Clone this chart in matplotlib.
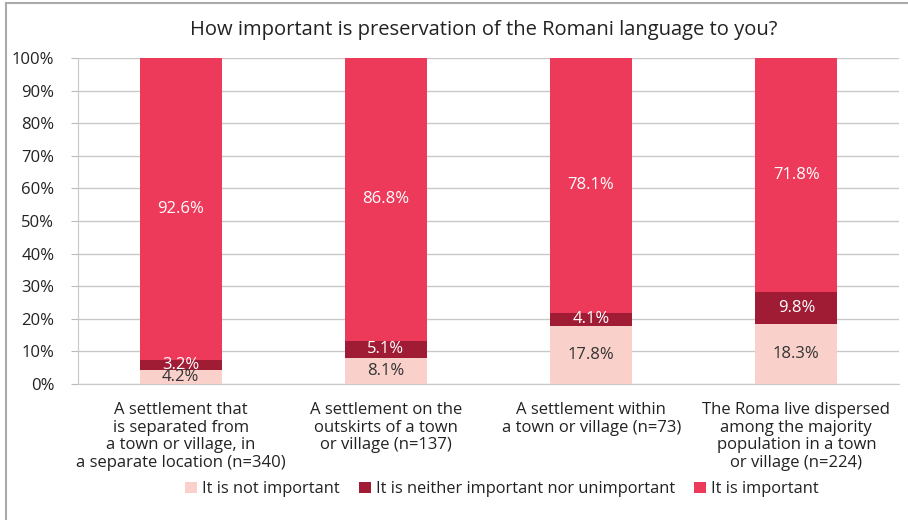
import matplotlib
matplotlib.use("Agg")
import matplotlib.pyplot as plt
from matplotlib.lines import Line2D
import numpy as np

categories = [
    "A settlement that\nis separated from\na town or village, in\na separate location (n=340)",
    "A settlement on the\noutskirts of a town\nor village (n=137)",
    "A settlement within\na town or village (n=73)",
    "The Roma live dispersed\namong the majority\npopulation in a town\nor village (n=224)",
]
series_names = ["It is not important", "It is neither important nor unimportant", "It is important"]
not_important = [4.2, 8.1, 17.8, 18.3]
neither = [3.2, 5.1, 4.1, 9.8]
important = [92.6, 86.8, 78.1, 71.8]
colors = ["#F9D0CA", "#A01C35", "#EE3A5A"]
label_colors = ["#333333", "white", "white"]
yticks = [0, 10, 20, 30, 40, 50, 60, 70, 80, 90, 100]

plt.rcParams['font.family'] = ['Open Sans', 'DejaVu Sans']

fig = plt.figure(figsize=(9.08, 5.2), dpi=100)
ax = fig.add_axes([78/908, 1 - 384/520, (899-78)/908, (384-58)/520])

x = np.arange(len(categories))
bottom = np.zeros(len(categories))
data = [not_important, neither, important]
width = 0.4
for vals, col, lc, name in zip(data, colors, label_colors, series_names):
    vals = np.array(vals)
    ax.bar(x, vals, width, bottom=bottom, color=col, label=name, zorder=3)
    for xi, b, v in zip(x, bottom, vals):
        ax.text(xi, b + v/2, f"{v:.1f}%", ha="center", va="center",
                color=lc, fontsize=12, zorder=4)
    bottom = bottom + vals

ax.set_xlim(-0.5, len(categories) - 0.5)
ax.set_ylim(0, 100)
ax.set_yticks(yticks)
ax.set_yticklabels([f"{t}%" for t in yticks], fontsize=12, color="#222222")
ax.set_xticks(x)
ax.set_xticklabels(categories, fontsize=12, color="#222222", linespacing=1.13)
ax.tick_params(axis="x", length=0, pad=13)
ax.tick_params(axis="y", length=5, color="#BBBBBB", pad=12)
ax.grid(axis="y", color="#C8C8C8", linewidth=1, zorder=0)
for s in ["top", "right"]:
    ax.spines[s].set_visible(False)
ax.spines["left"].set_color("#C8C8C8")
ax.spines["bottom"].set_color("#C8C8C8")

fig.text(484/908, 1 - 30/520, "How important is preservation of the Romani language to you?",
         ha="center", va="center", fontsize=14.5, color="#222222")

leg = fig.legend(loc="center", bbox_to_anchor=(502/908, 1 - 489/520), ncol=3,
                 frameon=False, fontsize=11.8, handlelength=0.7, handleheight=0.7,
                 handletextpad=0.3, columnspacing=1.2)
for t in leg.get_texts():
    t.set_color("#222222")

fig.add_artist(Line2D([6/908, 6/908], [0, 1 - 3/520], transform=fig.transFigure, color="#AAAAAA", lw=1.5))
fig.add_artist(Line2D([6/908, 1], [1 - 3/520, 1 - 3/520], transform=fig.transFigure, color="#AAAAAA", lw=1.5))

fig.savefig("out.png", dpi=100)
